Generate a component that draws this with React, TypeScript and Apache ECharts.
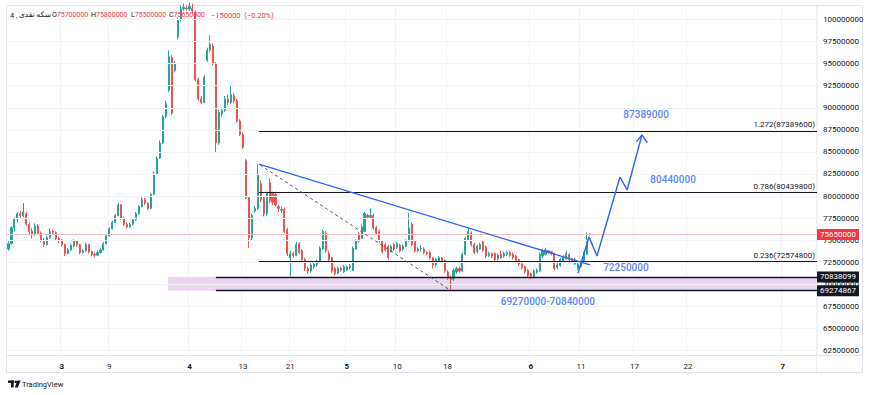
import React, { useEffect, useRef } from "react";
import * as echarts from "echarts";

// ---- candles: [open, close, low, high] in millions ----
const ohlc: number[][] = [
  [74.0,74.6,73.8,74.9],[74.6,76.4,74.5,76.6],[76.4,77.4,76.0,77.6],[77.4,78.0,77.0,78.2],[78.0,77.8,77.5,78.3],
  [77.8,78.2,77.6,79.2],[78.0,76.8,76.6,78.2],[76.8,76.0,75.6,77.0],[76.0,75.7,75.2,76.4],[75.7,76.6,75.5,76.9],
  [76.6,75.8,75.6,76.8],[75.8,75.0,74.8,76.0],[75.0,74.5,74.2,75.2],[74.5,75.3,74.4,75.5],[75.3,76.0,75.1,76.3],
  [76.0,75.9,75.6,76.2],[75.9,75.2,75.0,76.0],[75.2,75.0,74.7,75.4],[75.0,74.5,74.3,75.1],[74.5,73.5,73.2,74.6],
  [73.5,73.9,73.4,74.1],[73.9,74.4,73.8,74.6],[74.4,74.9,74.2,75.1],[74.9,74.5,74.3,75.0],[74.5,73.6,73.4,74.6],
  [73.6,73.8,73.5,74.0],[73.8,74.5,73.7,74.7],[74.5,73.7,73.5,74.6],[73.7,73.4,73.2,73.8],[73.4,73.3,73.1,73.6],
  [73.3,73.6,73.2,73.8],[73.6,73.9,73.5,74.1],[73.9,74.6,73.8,74.8],[74.6,75.5,74.5,75.7],[75.5,76.3,75.4,76.5],
  [76.3,77.0,76.2,77.2],[77.0,77.8,76.9,78.0],[77.8,79.0,77.7,79.2],[79.0,77.5,77.3,79.1],[77.5,76.8,76.6,77.7],
  [76.8,76.5,76.3,77.0],[76.5,76.8,76.4,77.0],[76.8,77.3,76.7,77.5],[77.3,78.0,77.2,78.2],[78.0,78.8,77.9,79.0],
  [78.8,79.6,78.7,79.9],[79.6,79.2,79.0,79.8],[79.2,78.6,78.4,79.3],[78.6,80.2,78.5,80.4],[80.2,82.5,80.1,82.8],
  [82.5,84.3,82.4,84.5],[84.3,86.0,84.2,86.3],[86.0,89.0,85.9,89.2],[89.0,90.5,88.8,90.8],[92.0,95.8,91.8,96.5],
  [95.7,89.4,89.2,96.0],[94.2,95.0,94.0,95.3],[98.0,99.9,97.8,100.2],[100.0,101.2,99.8,101.6],[101.2,101.4,101.0,101.8],
  [101.3,101.2,101.0,101.6],[101.2,101.5,101.0,101.9],[101.3,101.0,100.7,101.8],[100.8,93.2,93.0,101.0],[93.2,91.0,90.8,93.4],
  [91.0,90.6,90.4,91.3],[90.6,93.5,90.5,93.7],[95.4,96.5,95.2,96.8],[96.5,97.2,96.3,98.2],[97.0,95.0,94.8,97.3],
  [95.0,86.0,84.9,95.2],[86.0,89.5,85.8,89.8],[89.3,89.7,89.0,90.0],[89.7,91.0,89.5,91.3],[91.0,90.6,90.3,91.5],
  [90.6,91.5,90.4,92.5],[91.4,90.8,90.5,91.7],[90.8,88.5,88.3,91.0],[88.5,87.0,86.8,88.7],[87.0,85.5,85.3,87.2],
  [84.0,79.8,79.6,84.2],[79.8,75.3,74.1,80.0],[75.3,77.8,75.0,78.0],[78.3,78.6,78.1,78.9],[78.6,82.5,78.4,83.6],
  [81.4,79.6,79.3,81.8],[79.8,78.0,77.7,80.0],[78.0,80.3,77.8,80.5],[81.5,79.5,79.2,82.0],[80.3,79.3,79.0,80.5],
  [80.2,79.0,78.8,80.5],[78.8,78.6,78.2,79.0],[78.4,78.5,78.1,78.8],[78.5,76.0,75.8,78.7],[76.2,73.5,73.2,76.4],
  [73.0,73.5,70.9,73.8],[73.5,73.3,73.0,73.7],[73.3,74.5,73.2,74.8],[74.6,73.6,73.4,74.8],[73.8,72.8,72.6,74.0],
  [72.8,71.8,71.5,73.0],[71.8,71.5,71.2,72.0],[71.5,72.2,71.3,72.4],[72.0,72.3,71.8,72.5],[72.2,72.6,72.0,72.8],
  [72.6,74.1,72.5,74.3],[74.0,76.0,73.9,76.2],[75.8,73.8,73.6,76.0],[73.5,72.8,72.5,73.8],[73.0,71.5,71.3,73.1],
  [71.8,71.2,71.0,72.0],[71.3,71.8,71.1,72.0],[71.8,71.6,71.4,72.0],[71.4,72.0,71.3,72.2],[71.6,72.0,71.5,72.2],
  [71.9,72.1,71.7,72.3],[71.6,74.1,71.5,74.3],[74.0,74.9,73.9,75.1],[75.7,74.9,74.7,75.9],[75.2,76.5,75.1,76.8],
  [76.0,78.0,75.9,78.2],[77.8,77.6,77.4,78.0],[77.6,77.8,77.4,78.6],[77.8,76.4,76.2,78.0],[76.4,75.8,75.6,76.6],
  [76.0,74.9,74.7,76.2],[74.9,73.7,73.5,75.0],[74.5,73.9,73.7,74.7],[74.3,73.0,72.8,74.5],[73.8,74.3,73.6,74.5],
  [74.5,74.0,73.8,74.7],[74.2,74.6,74.0,74.8],[74.4,73.8,73.6,74.6],[74.0,74.3,73.8,74.5],[74.3,74.9,74.2,75.1],
  [74.9,76.4,74.8,78.1],[76.8,74.5,74.3,77.0],[74.9,73.8,73.6,75.0],[73.8,74.0,73.6,74.2],[74.0,74.1,73.7,74.4],
  [74.0,73.6,73.4,74.2],[73.6,73.5,73.3,73.8],[73.6,73.0,72.8,73.8],[73.0,72.2,71.8,73.1],[72.2,72.8,72.0,73.0],
  [72.6,73.0,72.4,73.2],[73.0,72.7,72.5,73.1],[72.7,71.5,71.3,72.8],[71.4,70.7,70.5,71.6],[70.8,70.5,69.4,71.0],
  [70.6,71.6,70.4,71.8],[71.4,71.8,71.2,72.0],[71.8,71.5,71.3,72.0],[71.5,73.4,71.4,73.6],[73.4,75.2,73.3,75.4],
  [75.0,76.0,74.9,76.4],[75.8,74.5,74.3,76.0],[74.5,73.6,73.4,74.7],[73.7,74.3,73.5,74.5],[74.0,74.5,73.9,74.7],
  [74.8,73.9,73.7,74.9],[74.2,73.2,73.0,74.4],[73.3,73.5,73.1,73.7],[73.5,73.2,73.0,73.6],[73.5,72.8,72.4,73.6],
  [72.9,73.3,72.7,73.5],[73.4,73.0,72.9,73.8],[73.2,73.5,73.0,73.7],[73.4,73.6,73.2,73.8],[73.6,73.3,73.1,73.8],
  [73.4,73.0,72.8,73.6],[73.2,72.6,72.4,73.3],[72.8,72.3,72.1,72.9],[72.3,71.9,71.7,72.4],[72.0,71.4,71.2,72.1],
  [71.6,71.0,70.8,71.7],[71.2,70.9,70.6,71.3],[70.9,71.5,70.8,71.7],[71.4,71.6,71.2,71.8],[71.5,73.4,71.4,73.6],
  [73.2,73.8,73.0,74.0],[73.4,73.9,73.3,74.1],[73.8,73.6,73.4,73.9],[73.7,73.5,73.3,73.8],[73.5,71.8,71.6,73.6],
  [71.9,72.2,71.7,72.4],[72.1,72.8,72.0,73.0],[72.6,73.1,72.5,73.3],[72.9,73.5,72.8,73.8],[73.4,72.8,72.6,73.5],
  [72.9,72.6,72.4,73.0],[72.3,72.8,72.2,73.0],[71.8,72.3,71.6,72.4],[72.0,72.5,71.9,72.7],[72.6,73.5,72.5,73.7],
  [73.4,75.0,73.3,75.9],[75.7,75.65,75.5,75.8],
];

const CATEGORY_COUNT = 273;
const categories = Array.from({ length: CATEGORY_COUNT }, (_, i) => String(i));

const timeTickIndex = [18, 34, 61, 79, 95, 114, 131, 148, 176, 193, 211, 229, 261];
const timeTickText = ["3", "9", "4", "13", "21", "5", "10", "18", "6", "11", "17", "22", "7"];
const timeTickMonth = [true, false, true, false, false, true, false, false, true, false, false, false, true];

const priceTicks = [62.5, 65, 67.5, 70, 72.5, 75, 77.5, 80, 82.5, 85, 87.5, 90, 92.5, 95, 97.5, 100];

const fibRatios = ["1.272", "0.786", "0.236"];
const fibValues = [87.3896, 80.4398, 72.5748];
const fibStart = 84.4;

const zoneTop = 70.838099;
const zoneBottom = 69.274867;
const zoneStart = 53.8;
const zoneLineStart = 69.9;
const lastPrice = 75.65;

const trendLine = [[84.4, 83.63], [196.0, 72.19]];
const dashedLine = [[84.8, 83.52], [148.8, 69.36]];
const projection = [[191.95, 71.29], [195.66, 75.36], [198.35, 73.21], [206.1, 82.16], [208.5, 80.69], [213.5, 86.92]];
const arrowHead = [[211.7, 86.16], [213.5, 86.92], [215.3, 86.04]];

const annotationText = ["87389000", "80440000", "72250000", "69270000-70840000"];
const annotationAt = [[214.9, 89.29], [224.0, 81.82], [208.1, 71.85], [181.8, 68.0]];

const titleName = "سکه نقدی";
const titleInterval = "4 ,";
const headerKeys = ["O", "H", "L", "C"];
const headerVals = ["75700000", "75800000", "75500000", "75650000"];
const headerChange = "−150000  (−0.20%)";

const FONT = 'Roboto, "DejaVu Sans", "Liberation Sans", sans-serif';
const BLUE = "#2962ff";
const UP = "#26a69a";
const DOWN = "#ef5350";
const INK = "#131722";

const fmt = (v: number) => String(Math.round(v * 1e6));

export default function App() {
  const ref = useRef<HTMLDivElement>(null);
  useEffect(() => {
    if (!ref.current) return;
    const chart = echarts.init(ref.current, undefined, { renderer: "svg" });
    const end = CATEGORY_COUNT - 0.5;
    const isTick = (i: number) => timeTickIndex.indexOf(i) >= 0;

    const fibLines = fibValues.map((v, k) => [
      {
        coord: [fibStart, v],
        lineStyle: { color: INK, width: 1.2, type: "solid" },
        label: {
          show: true,
          position: "insideEndTop",
          formatter: `${fibRatios[k]}(${fmt(v)})`,
          color: INK,
          fontSize: 8,
          fontFamily: FONT,
          distance: 2,
        },
      },
      { coord: [end, v] },
    ]);
    const zoneLines = [zoneTop, zoneBottom].map((v) => [
      {
        coord: [zoneLineStart, v],
        lineStyle: { color: INK, width: 1.3, type: "solid" },
        label: {
          show: true,
          position: "end",
          distance: 0,
          formatter: fmt(v),
          color: "#fff",
          backgroundColor: INK,
          padding: [2, 3, 1, 3],
          fontSize: 8,
          fontFamily: FONT,
        },
      },
      { coord: [end, v] },
    ]);

    const gridLines = priceTicks.map((v) => ({ yAxis: v }));

    const headerGraphics: any[] = [
      { type: "text", left: 10, top: 11, z: 100, style: { text: titleInterval, fontSize: 7.5, fontFamily: FONT, fill: INK } },
      { type: "text", left: 19, top: 10.5, z: 100, style: { text: titleName, fontSize: 7.5, fontFamily: FONT, fill: INK } },
    ];
    const headerX = [52, 91, 131, 169];
    headerKeys.forEach((k, i) => {
      headerGraphics.push({
        type: "text",
        left: headerX[i],
        top: 11,
        z: 100,
        style: {
          text: `{k|${k}}{v|${headerVals[i]}}`,
          fontFamily: FONT,
          rich: {
            k: { fontSize: 7, fill: INK, fontFamily: FONT },
            v: { fontSize: 7, fill: "#f23645", fontFamily: FONT },
          },
        },
      });
    });
    headerGraphics.push({
      type: "text",
      left: 211,
      top: 11,
      z: 100,
      style: { text: headerChange, fontSize: 7.5, fontFamily: FONT, fill: "#f23645" },
    });

    chart.setOption({
      animation: false,
      backgroundColor: "#ffffff",
      grid: { left: 7, right: 53, top: 6, bottom: 39, containLabel: false },
      xAxis: [
        {
          type: "category",
          data: categories,
          boundaryGap: true,
          axisLine: { show: false },
          axisTick: { show: false },
          splitLine: { show: true, interval: (i: number) => isTick(i), lineStyle: { color: "#f3f4f7", width: 1 } },
          axisLabel: {
            interval: (i: number) => isTick(i),
            formatter: (_v: string, i: number) => {
              const k = timeTickIndex.indexOf(i);
              if (k < 0) return "";
              return timeTickMonth[k] ? `{b|${timeTickText[k]}}` : timeTickText[k];
            },
            color: INK,
            fontSize: 8,
            fontFamily: FONT,
            margin: 6,
            rich: { b: { fontWeight: "bold", fontSize: 8, color: INK, fontFamily: FONT } },
          },
        },
        { type: "value", min: -0.5, max: end, show: false },
      ],
      yAxis: {
        type: "value",
        position: "right",
        min: 61.88,
        max: 101.53,
        scale: true,
        axisLine: { show: false },
        axisTick: { show: false },
        splitLine: { show: false },
        axisLabel: {
          customValues: priceTicks,
          formatter: (v: number) => fmt(v),
          color: INK,
          fontSize: 8,
          fontFamily: FONT,
          margin: 6,
          align: "left",
        },
      },
      graphic: [
        {
          type: "rect",
          shape: { x: 6.5, y: 5.5, width: 856, height: 367 },
          style: { fill: "none", stroke: "#e0e3eb", lineWidth: 1 },
          silent: true,
          z: -1,
        },
        { type: "line", shape: { x1: 7, y1: 355.5, x2: 862, y2: 355.5 }, style: { stroke: "#e0e3eb", lineWidth: 1 }, z: -1 },
        { type: "line", shape: { x1: 816.5, y1: 6, x2: 816.5, y2: 372 }, style: { stroke: "#eef0f3", lineWidth: 1 }, z: -1 },
        ...headerGraphics,
        { type: "rect", shape: { x: 8, y: 380.5, width: 6, height: 2.4 }, style: { fill: INK } },
        { type: "rect", shape: { x: 11, y: 380.5, width: 2.6, height: 7 }, style: { fill: INK } },
        { type: "circle", shape: { cx: 15.8, cy: 381.8, r: 1.3 }, style: { fill: INK } },
        { type: "polygon", shape: { points: [[17.2, 380.5], [20.6, 380.5], [17.8, 387.5], [14.9, 387.5]] }, style: { fill: INK } },
        { type: "text", left: 22, top: 380, style: { text: "TradingView", fontSize: 7.5, fontFamily: FONT, fill: INK } },
      ],
      series: [
        {
          type: "line",
          name: "zone",
          xAxisIndex: 1,
          data: [],
          z: 1,
          silent: true,
          markArea: {
            silent: true,
            itemStyle: { color: "#ead6ef" },
            data: [[{ coord: [zoneStart, zoneTop] }, { coord: [end, zoneBottom] }]],
          },
          markLine: {
            silent: true,
            symbol: "none",
            label: { show: false },
            lineStyle: { color: "#f3f4f7", width: 1, type: "solid" },
            data: gridLines,
          },
        },
        {
          type: "candlestick",
          xAxisIndex: 0,
          yAxisIndex: 0,
          data: ohlc,
          barWidth: 1.6,
          clip: true,
          z: 3,
          itemStyle: { color: UP, color0: DOWN, borderColor: UP, borderColor0: DOWN, borderWidth: 1 },
        },
        {
          type: "line",
          name: "levels",
          xAxisIndex: 1,
          data: [],
          z: 4,
          silent: true,
          markLine: {
            silent: true,
            symbol: "none",
            data: [
              {
                yAxis: lastPrice,
                lineStyle: { color: "#f6c0c0", width: 1, type: "solid" },
                label: {
                  show: true,
                  position: "end",
                  distance: 0,
                  formatter: fmt(lastPrice),
                  color: "#fff",
                  backgroundColor: "#f23645",
                  padding: [2, 3, 1, 3],
                  fontSize: 8,
                  fontFamily: FONT,
                },
              },
              ...fibLines,
              ...zoneLines,
            ],
          },
        },
        {
          type: "line",
          xAxisIndex: 1,
          data: dashedLine,
          symbol: "none",
          z: 5,
          silent: true,
          lineStyle: { color: "#50535e", width: 1, type: [3, 3] },
        },
        {
          type: "line",
          xAxisIndex: 1,
          data: trendLine,
          symbol: "none",
          z: 5,
          silent: true,
          lineStyle: { color: BLUE, width: 1.3 },
        },
        {
          type: "line",
          xAxisIndex: 1,
          data: projection,
          symbol: "none",
          z: 6,
          silent: true,
          lineStyle: { color: BLUE, width: 1.4 },
        },
        {
          type: "line",
          xAxisIndex: 1,
          data: arrowHead,
          symbol: "none",
          z: 6,
          silent: true,
          lineStyle: { color: BLUE, width: 1.4 },
        },
        {
          type: "scatter",
          xAxisIndex: 1,
          data: annotationAt,
          symbolSize: 1,
          z: 7,
          silent: true,
          itemStyle: { color: "rgba(0,0,0,0)" },
          label: {
            show: true,
            position: "inside",
            formatter: (p: any) => annotationText[p.dataIndex],
            color: BLUE,
            fontSize: 10,
            fontWeight: 500,
            fontFamily: FONT,
          },
        },
      ],
    });
    return () => chart.dispose();
  }, []);
  return (
    <div
      ref={ref}
      style={{ position: "fixed", left: 0, top: 0, width: 870, height: 395, background: "#fff" }}
    />
  );
}
